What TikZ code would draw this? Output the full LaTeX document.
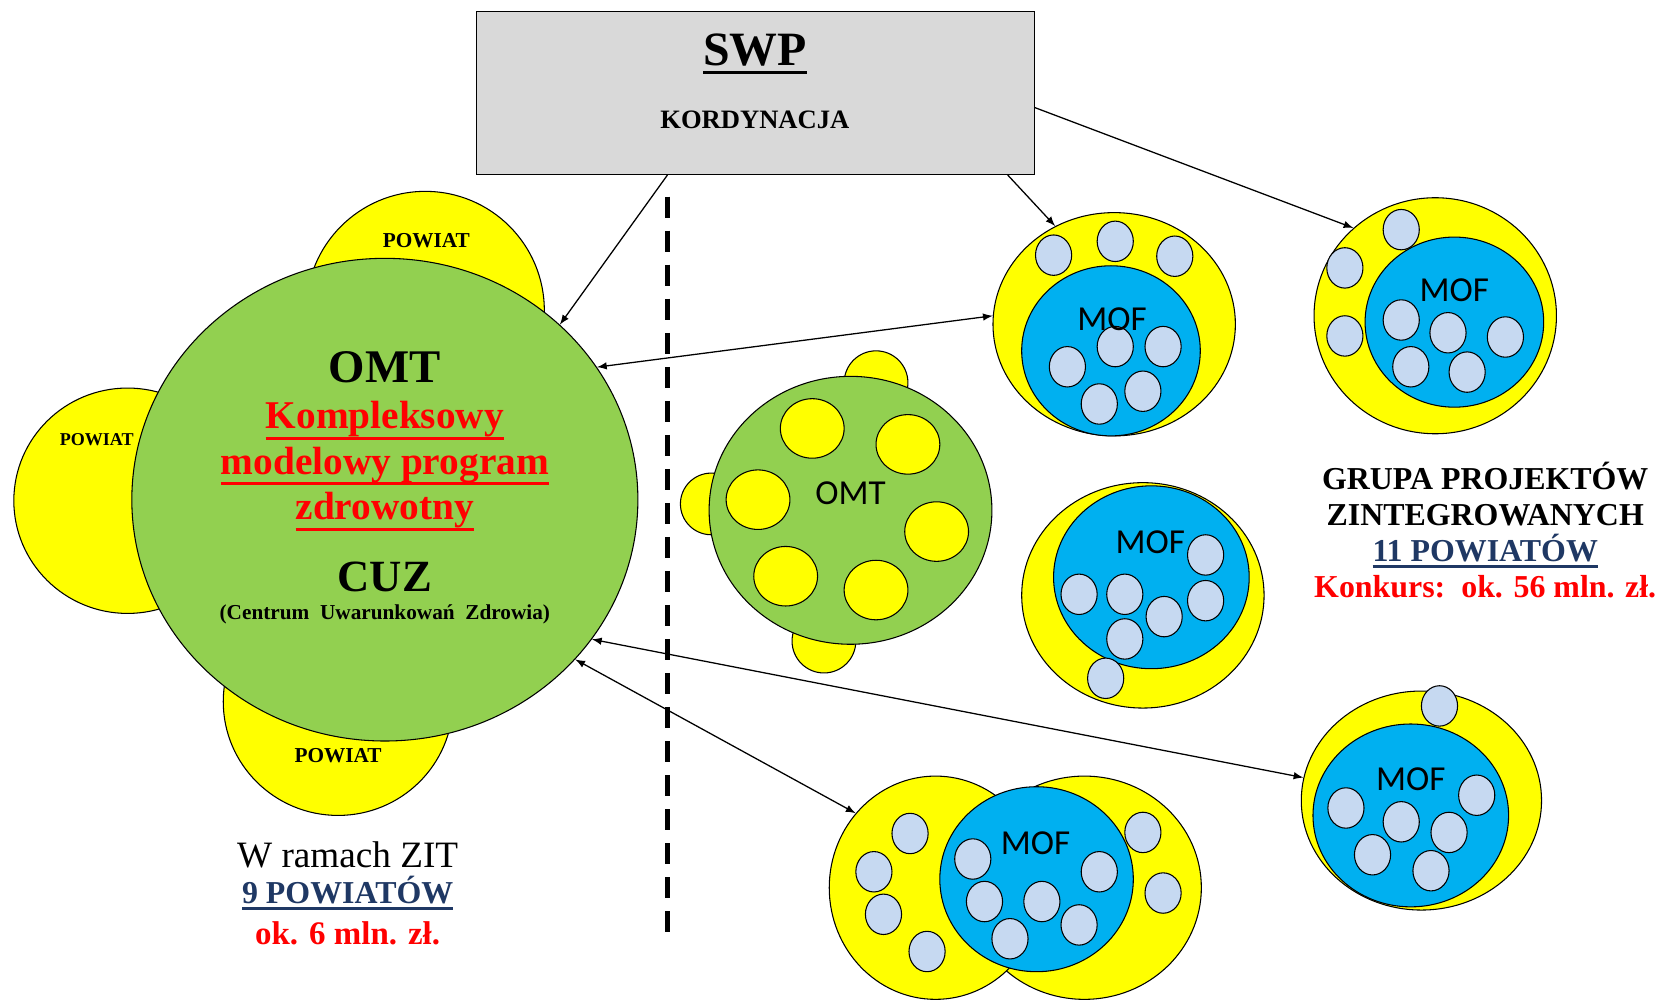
\documentclass[tikz,border=0pt]{standalone}
\usepackage{fontspec}
\setmainfont{Liberation Serif}
\newfontfamily\calibri{Carlito}
\usetikzlibrary{shapes.geometric}

\definecolor{zolty}{HTML}{FFFF00}
\definecolor{zielony}{HTML}{92D050}
\definecolor{niebieski}{HTML}{00B0F0}
\definecolor{blekit}{HTML}{C6D9F1}
\definecolor{szary}{HTML}{D9D9D9}
\definecolor{granat}{HTML}{1F3864}
\definecolor{czerwony}{HTML}{FF0000}

% podkreslenie: #1 odstep pod linia bazowa, #2 grubosc, #3 tekst
\newcommand{\podkresl}[3]{\leavevmode\setbox0\hbox{#3}\rlap{\copy0}\rule[-#1]{\wd0}{#2}}

\tikzset{
  kolo/.style 2 args={ellipse, draw, line width=0.5pt, inner sep=0pt,
    minimum width=#1pt, minimum height=#2pt},
  gmina/.style={kolo={17}{19}, fill=blekit},
  mof/.style={font=\calibri\fontsize{16.5pt}{18pt}\selectfont},
  napis/.style={anchor=base, font=\bfseries\fontsize{#1}{#1}\selectfont},
}

\begin{document}
\begin{tikzpicture}[x=0.5pt, y=-0.5pt, >=latex]
			\useasboundingbox (0,0) rectangle (1568,940);
			%%%	SWP
			\node[draw, fill=szary, line width=0.6pt, inner sep=0pt,
			minimum width=262.5pt, minimum height=76.5pt] (swp) at (710.5,87.5) {};
			\node[napis=22.5pt] (swpnapis) at (710,62) {\podkresl{4pt}{1.8pt}{SWP}};
			\node[napis=12.5pt] (kord) at (710,121) {KORDYNACJA};
			%%%	Linia podzialu
			\coordinate (gora) at (628,185);
			\coordinate (dol) at (628,880);
			\draw[line width=2.5pt, dash pattern=on 10pt off 6pt] (gora) -- (dol);
			%%%	OMT w ramach ZIT
			\node[kolo={112}{112}, fill=zolty] (powg) at (400,292) {};
			\node[kolo={107}{106}, fill=zolty] (powl) at (120,471) {};
			\node[kolo={108}{107}, fill=zolty] (powd) at (318,660) {};
			\node[kolo={238}{227}, fill=zielony] (omt) at (362,470) {};
			\node[napis=10pt] (powgt) at (401,233) {POWIAT};
			\node[napis=8.5pt] (powlt) at (91,419) {POWIAT};
			\node[napis=10pt] (powdt) at (318,717) {POWIAT};
			\node[napis=22pt] (omtt) at (362,360) {OMT};
			% wezel wielowierszowy: base = ostatni wiersz
			\node[anchor=base, align=center, text=czerwony,
			font=\bfseries\fontsize{18.5pt}{21.5pt}\selectfont] (program) at (362,489)
			{\podkresl{5.2pt}{1.4pt}{Kompleksowy}\\
			\podkresl{5.2pt}{1.4pt}{modelowy program}\\
			\podkresl{5.2pt}{1.4pt}{zdrowotny}};
			\node[napis=21pt] (cuz) at (362,556) {CUZ};
			\node[napis=10pt] (cuzopis) at (362,583) {(Centrum\ \ Uwarunkowań\ \ Zdrowia)};
			\node[anchor=base, font=\fontsize{17.5pt}{20pt}\selectfont] (zit) at (327,816) {W ramach ZIT};
			\node[napis=15pt, text=granat] (zitpow) at (327,850) {\podkresl{3pt}{1.3pt}{9 POWIATÓW}};
			\node[napis=15.5pt, text=czerwony] (zitkw) at (327,888) {ok. 6 mln. zł.};
			%%%	Maly OMT
			\node[kolo={30}{30}, fill=zolty] (pg) at (824,360) {};
			\node[kolo={29}{29}, fill=zolty] (pl) at (669,474) {};
			\node[kolo={30}{30}, fill=zolty] (pd) at (775,603) {};
			\node[kolo={133}{126}, fill=zielony] (omt2) at (800,480) {};
			\foreach \x/\y [count=\i] in {764/403, 854/418, 713/470, 881/500, 739/542, 824/555}
			\node[kolo={30}{28}, fill=zolty] (p-\i) at (\x,\y) {};
			\node[mof] (omt2t) at (800,464) {OMT};
			%%%	MOF 1
			\node[kolo={114}{105}, fill=zolty] (mof1) at (1048,305) {};
			\node[kolo={84}{80}, fill=niebieski] (mof1n) at (1045,330) {};
			\foreach \x/\y [count=\i] in {991/240, 1049/227, 1105/241, 1004/345, 1049/326,
			1094/326, 1075/368, 1034/380}
			\node[gmina] (a-\i) at (\x,\y) {};
			\node[mof] (mof1t) at (1046,300) {MOF};
			%%%	MOF 2
			\node[kolo={114}{111}, fill=zolty] (mof2) at (1350,297) {};
			\node[kolo={84}{80}, fill=niebieski] (mof2n) at (1368,303) {};
			\foreach \x/\y [count=\i] in {1318/216, 1265/252, 1265/316, 1318/301, 1362/313,
			1416/317, 1327/345, 1380/350}
			\node[gmina] (b-\i) at (\x,\y) {};
			\node[mof] (mof2t) at (1368,273) {MOF};
			%%%	MOF 3
			\node[kolo={114}{106}, fill=zolty] (mof3) at (1075,560) {};
			\node[kolo={92}{86}, fill=niebieski] (mof3n) at (1083,543) {};
			\foreach \x/\y [count=\i] in {1134/522, 1015/559, 1058/559, 1095/580, 1134/565,
			1058/601, 1040/638}
			\node[gmina] (c-\i) at (\x,\y) {};
			\node[mof] (mof3t) at (1082,510) {MOF};
			%%%	MOF 4
			\node[kolo={113}{103}, fill=zolty] (mof4) at (1337,753) {};
			\node[kolo={92}{86}, fill=niebieski] (mof4n) at (1327,767) {};
			\foreach \x/\y [count=\i] in {1354/664, 1266/760, 1318/773, 1389/748, 1363/783,
			1291/804, 1346/819}
			\node[gmina] (d-\i) at (\x,\y) {};
			\node[mof] (mof4t) at (1327,733) {MOF};
			%%%	MOF 5
			\node[kolo={110}{105}, fill=zolty] (mof5p) at (1020,835) {};
			\node[kolo={100}{105}, fill=zolty] (mof5) at (880,835) {};
			\node[kolo={91}{87}, fill=niebieski] (mof5n) at (975,827) {};
			\foreach \x/\y [count=\i] in {856/784, 822/820, 831/860, 872/895, 1075/783, 1094/840,
			915/808, 1034/820, 926/848, 980/848, 1015/870, 950/883}
			\node[gmina] (e-\i) at (\x,\y) {};
			\node[mof] (mof5t) at (974,793) {MOF};
			%%%	Grupa projektow
			\node[anchor=base, align=center, font=\bfseries\fontsize{15pt}{17pt}\selectfont] (gpz) at (1397,562)
			{GRUPA PROJEKTÓW\\ZINTEGROWANYCH\\
			{\color{granat}\podkresl{3pt}{1.3pt}{11 POWIATÓW}}\\
			{\color{czerwony}Konkurs:\ \ ok. 56 mln. zł.}};
			%%%	Strzalki
			\draw[->, line width=0.6pt] (swp.-137) -- (omt.45);
			\draw[->, line width=0.6pt] (swp.-18) -- (mof1.121);
			\draw[->, line width=0.6pt] (swp.-3) -- (mof2.133);
			\draw[<->, line width=0.6pt] (omt.32) -- (mof1.176);
			\draw[<->, line width=0.6pt] (omt.-34) -- (mof4.169);
			\draw[<->, line width=0.6pt] (omt.-40) -- (mof5.137);
		\end{tikzpicture}
\end{document}
